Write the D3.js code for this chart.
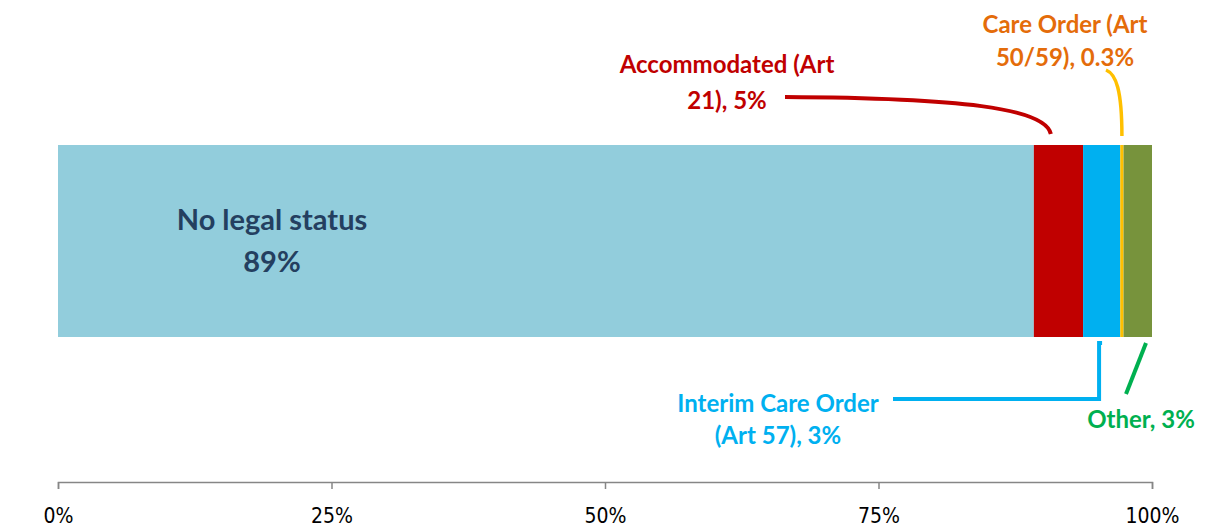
<!DOCTYPE html>
<html><head><meta charset="utf-8">
<script src="https://cdn.jsdelivr.net/npm/d3@7"></script>
<style>body{margin:0;background:#fff}svg{display:block}</style>
</head><body>
<svg id="c" width="1205" height="527"></svg>
<script>
const categories = ["No legal status", "Accommodated (Art 21)", "Interim Care Order (Art 57)", "Care Order (Art 50/59)", "Other"];
const values = [89.2, 4.5, 3.4, 0.3, 2.6];
const colors = ["#92CDDC", "#C00000", "#00B0F0", "#FFC000", "#77933C"];
const tickValues = [0, 25, 50, 75, 100];
const tickLabels = ["0%", "25%", "50%", "75%", "100%"];

const svg = d3.select("#c");
const x = d3.scaleLinear().domain([0, 100]).range([58, 1152]);
const y = d3.scaleBand().domain(["all"]).range([145, 337]).padding(0);

let acc = 0;
const segs = values.map((v, i) => { const s = {cat: categories[i], x0: acc, x1: acc + v, color: colors[i]}; acc += v; return s; });

svg.selectAll("rect.seg").data(segs).join("rect")
  .attr("x", d => x(d.x0)).attr("width", d => x(d.x1) - x(d.x0))
  .attr("y", y("all")).attr("height", y.bandwidth())
  .attr("fill", d => d.color);

// axis
const axis = d3.axisBottom(x).tickValues(tickValues).tickFormat((d, i) => tickLabels[i]).tickSize(7).tickSizeOuter(7);
const ag = svg.append("g").attr("transform", "translate(0,482)").call(axis);
ag.select(".domain").attr("stroke", "#868686").attr("stroke-width", 1.5);
ag.selectAll(".tick line").attr("stroke", "#868686").attr("stroke-width", 1.5);
ag.selectAll(".tick text").attr("y", 26).attr("fill", "#000")
  .style("font-family", "'DejaVu Sans Condensed', 'DejaVu Sans', sans-serif").style("font-stretch", "condensed").style("font-size", "21px");

const font = "Lato, 'Open Sans', sans-serif";
function label(lines, cx, ys, color, size) {
  const t = svg.append("text").attr("text-anchor", "middle").attr("fill", color)
    .style("font-family", font).style("font-weight", "bold").style("font-size", size + "px");
  lines.forEach((l, i) => t.append("tspan").attr("x", cx).attr("y", ys[i]).text(l));
}

label(["No legal status", values[0].toFixed(0) + "%"], 272, [230, 272], "#243F60", 29);
label(["Accommodated (Art", "21), " + values[1].toFixed(0) + "%"], 727, [73, 109], "#C00000", 24);
label(["Care Order (Art", "50/59), " + values[3].toFixed(1) + "%"], 1065, [33, 66], "#E46C0A", 24);
label(["Interim Care Order", "(Art 57), " + values[2].toFixed(0) + "%"], 778, [412, 444], "#00B0F0", 24);
label(["Other, " + values[4].toFixed(0) + "%"], 1141, [428], "#00B050", 24);

// leader lines
const mid = d => (x(segs[d].x0) + x(segs[d].x1)) / 2;
svg.append("path").attr("fill", "none").attr("stroke", "#C00000").attr("stroke-width", 4)
  .attr("d", `M785,97 C960,98 1045,108 ${x(segs[1].x0) + 17},134`);
svg.append("path").attr("fill", "none").attr("stroke", "#FFC000").attr("stroke-width", 3.5)
  .attr("d", `M1106,70 C1116,74 ${mid(3)},90 ${mid(3)},136`);
svg.append("path").attr("fill", "none").attr("stroke", "#00B0F0").attr("stroke-width", 4)
  .attr("d", `M893,399 H${x(segs[2].x0) + 16} V343 H${x(segs[2].x0) + 19}`);
svg.append("path").attr("fill", "none").attr("stroke", "#00B050").attr("stroke-width", 4)
  .attr("d", `M1146,343 L1126,394`);
</script>
</body></html>
